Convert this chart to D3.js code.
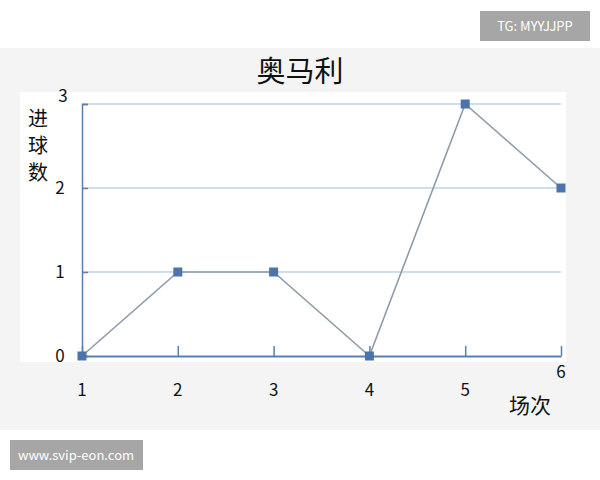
<!DOCTYPE html>
<html lang="zh">
  <script src="https://d3js.org/d3.v7.min.js"></script>
  <style>
    body {
      margin: 0;
      background: #fff;
    }
    text {
      font-family: "Noto Sans CJK SC", "Noto Sans", sans-serif;
    }
  </style>
  <body>
    <svg width="600" height="480"></svg>
    <script>
      // chart data
      const matches = [1, 2, 3, 4, 5, 6];
      const goals = [0, 1, 1, 0, 3, 2];
      const yTicks = [0, 1, 2, 3];
      const title = "奥马利";
      const yLabel = ["进", "球", "数"];
      const xLabel = "场次";

      const svg = d3.select("svg");

      // grey band behind the chart + white plot panel
      svg.append("rect").attr("x", 0).attr("y", 48).attr("width", 600).attr("height", 382).attr("fill", "#f4f4f4");
      svg.append("rect").attr("x", 20).attr("y", 92).attr("width", 546).attr("height", 270).attr("fill", "#ffffff");

      var x = d3.scaleLinear().domain([1, 6]).range([82, 561]);
      var y = d3.scaleLinear().domain([0, 3]).range([356, 104]);

      // gridlines
      svg.append("g")
        .selectAll("line")
        .data(yTicks.filter((d) => d > 0))
        .enter()
        .append("line")
        .attr("x1", x(1))
        .attr("x2", x(6))
        .attr("y1", (d) => y(d))
        .attr("y2", (d) => y(d))
        .attr("stroke", "#bcd3e6")
        .attr("stroke-width", 1.6);

      // y axis
      svg.append("g")
        .attr("transform", "translate(" + x(1) + ",0)")
        .call(d3.axisRight(y).tickValues(yTicks).tickSize(6).tickFormat(""))
        .call((g) => g.selectAll("path,line").attr("stroke", "#5a7fae").attr("stroke-width", 1.5));

      // x axis, ticks pointing up
      svg.append("g")
        .attr("transform", "translate(0," + y(0) + ")")
        .call(d3.axisTop(x).tickValues(matches).tickSize(10).tickSizeOuter(0).tickFormat(""))
        .call((g) => g.selectAll("path,line").attr("stroke", "#5a7fae").attr("stroke-width", 1.5))
        .call((g) => g.select(".domain").attr("stroke-width", 2));

      // y tick labels
      svg.append("g")
        .selectAll("text")
        .data(yTicks)
        .enter()
        .append("text")
        .attr("x", (d) => (d === 3 ? 63 : 60))
        .attr("y", (d) => y(d) + (d === 3 ? -2 : 6))
        .attr("text-anchor", "middle")
        .attr("font-size", 17)
        .attr("fill", "#111")
        .text((d) => d);

      // x tick labels
      svg.append("g")
        .selectAll("text")
        .data(matches)
        .enter()
        .append("text")
        .attr("x", (d) => x(d))
        .attr("y", (d) => (d === 6 ? 378 : 396))
        .attr("text-anchor", "middle")
        .attr("font-size", 17)
        .attr("fill", "#111")
        .text((d) => d);

      // line
      const line = d3.line()
        .x((d, i) => x(matches[i]))
        .y((d) => y(d));

      svg.append("path")
        .datum(goals)
        .attr("d", line)
        .attr("fill", "none")
        .attr("stroke", "#8d9aa8")
        .attr("stroke-width", 1.6);

      // square markers
      svg.append("g")
        .selectAll("rect")
        .data(goals)
        .enter()
        .append("rect")
        .attr("x", (d, i) => x(matches[i]) - 4.5)
        .attr("y", (d) => y(d) - 4.5)
        .attr("width", 9)
        .attr("height", 9)
        .attr("fill", "#4d74a8");

      // title
      svg.append("text")
        .attr("x", 300)
        .attr("y", 82)
        .attr("text-anchor", "middle")
        .attr("font-size", 29)
        .attr("fill", "#111")
        .text(title);

      // y label, stacked characters
      svg.append("g")
        .selectAll("text")
        .data(yLabel)
        .enter()
        .append("text")
        .attr("x", 38)
        .attr("y", (d, i) => 126 + i * 27)
        .attr("text-anchor", "middle")
        .attr("font-size", 20)
        .attr("fill", "#111")
        .text((d) => d);

      // x label
      svg.append("text")
        .attr("x", 530)
        .attr("y", 413)
        .attr("text-anchor", "middle")
        .attr("font-size", 21)
        .attr("fill", "#111")
        .text(xLabel);

      // watermark boxes
      svg.append("rect").attr("x", 480).attr("y", 11).attr("width", 110).attr("height", 30).attr("fill", "#a6a6a6");
      svg.append("text")
        .attr("x", 535)
        .attr("y", 31)
        .attr("text-anchor", "middle")
        .attr("font-size", 13)
        .attr("fill", "#fff")
        .text("TG: MYYJJPP");

      svg.append("rect").attr("x", 10).attr("y", 440).attr("width", 133).attr("height", 30).attr("fill", "#a6a6a6");
      svg.append("text")
        .attr("x", 76)
        .attr("y", 460)
        .attr("text-anchor", "middle")
        .attr("font-size", 13)
        .attr("fill", "#fff")
        .text("www.svip-eon.com");
    </script>
  </body>
</html>
